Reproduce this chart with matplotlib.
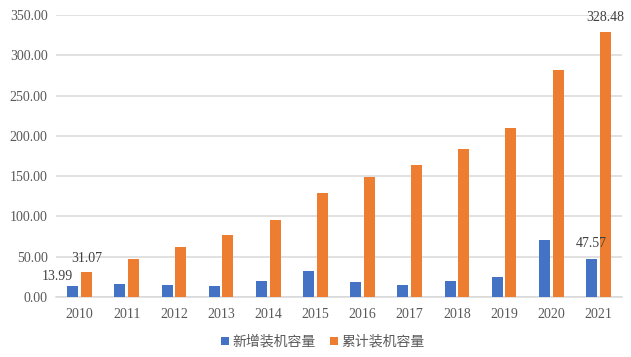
import matplotlib
matplotlib.use("Agg")
import matplotlib.pyplot as plt
import numpy as np

years = ["2010", "2011", "2012", "2013", "2014", "2015", "2016", "2017", "2018", "2019", "2020", "2021"]
new_capacity = [13.99, 15.8, 14.9, 13.6, 19.5, 32.6, 18.6, 14.5, 19.9, 24.8, 71.1, 47.57]
cumulative_capacity = [31.07, 46.8, 61.7, 76.5, 95.9, 129.0, 148.5, 163.8, 184.0, 209.7, 281.6, 328.48]
series_names = ["新增装机容量", "累计装机容量"]
yticks = [0, 50, 100, 150, 200, 250, 300, 350]

plt.rcParams['font.family'] = ['Liberation Serif', 'Noto Sans CJK SC']

fig = plt.figure(figsize=(6.31, 3.57), dpi=100)
ax = fig.add_axes([0.0887, 0.168, 0.897, 0.790])

x = np.arange(len(years))
w = 0.235
off = 0.145
blue = "#4472C4"
orange = "#ED7D31"
b1 = ax.bar(x - off, new_capacity, w, color=blue, label=series_names[0], zorder=3)
b2 = ax.bar(x + off, cumulative_capacity, w, color=orange, label=series_names[1], zorder=3)

ax.set_xlim(-0.5, len(years) - 0.5)
ax.set_ylim(0, 350)
ax.set_yticks(yticks)
ax.set_yticklabels([f"{v:.2f}" for v in yticks])
ax.set_xticks(x)
ax.set_xticklabels(years)
ax.tick_params(length=0, labelsize=10, colors="#595959", pad=8)
ax.tick_params(axis='y', pad=6)
for s in ["top", "right", "left"]:
    ax.spines[s].set_visible(False)
ax.spines["bottom"].set_color("#d9d9d9")
ax.spines["bottom"].set_linewidth(1.1)
ax.grid(axis='y', color="#d9d9d9", linewidth=1.1, zorder=0)
ax.set_axisbelow(True)

lab_col = "#404040"
def lab(xv, yv, dx, dy):
    ax.annotate(f"{yv:.2f}", xy=(xv, yv), xytext=(dx, dy), textcoords="offset pixels",
                ha="center", va="center", fontsize=10, color=lab_col)

lab(x[0] - off, new_capacity[0], -15, 9)
lab(x[0] + off, cumulative_capacity[0], 0, 13)
lab(x[-1] - off, new_capacity[-1], 0, 15)
lab(x[-1] + off, cumulative_capacity[-1], 0, 15)

leg = fig.legend(handles=[b1, b2], labels=series_names, loc="center", bbox_to_anchor=(0.512, 0.042),
                 ncol=2, frameon=False, handlelength=0.55, handleheight=0.55, handletextpad=0.3,
                 columnspacing=1.0, prop={'family': ['Noto Sans CJK SC'], 'size': 10})
for t in leg.get_texts():
    t.set_color("#595959")

fig.savefig("out.png", dpi=100)
